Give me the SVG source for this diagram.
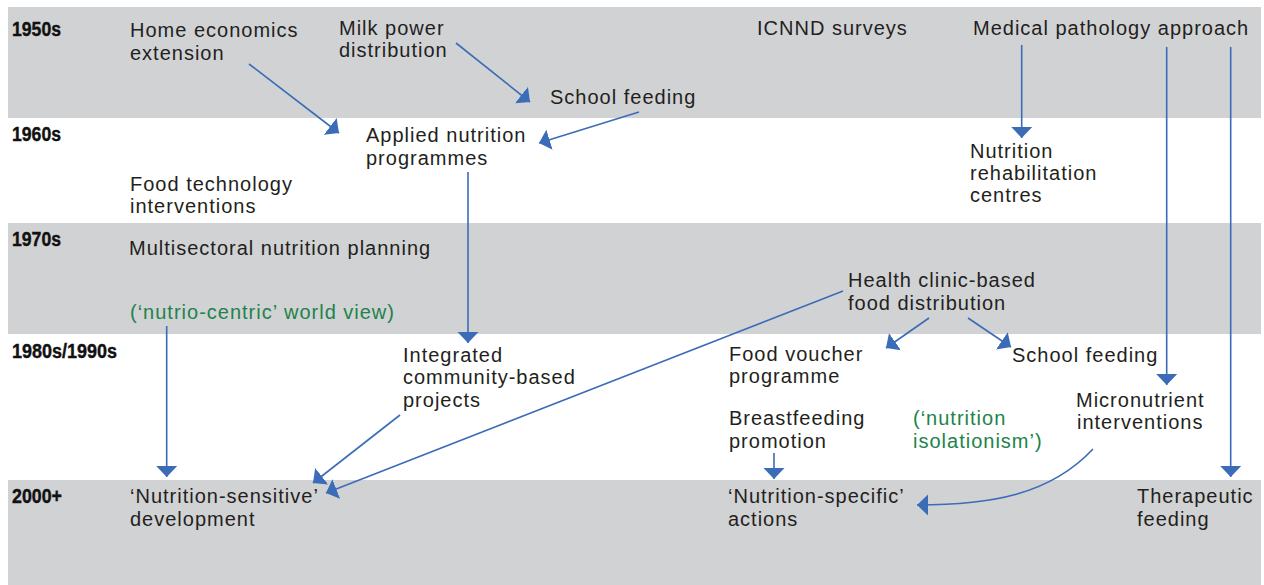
<svg xmlns="http://www.w3.org/2000/svg" width="1264" height="585" viewBox="0 0 1264 585">
<defs>
<style>
.band{fill:#d1d2d4}
.era{font-family:"Liberation Sans",Arial,sans-serif;font-weight:bold;font-size:20px;fill:#111;stroke:#111;stroke-width:0.4}
.t{font-family:"Liberation Sans",Arial,sans-serif;font-size:20px;letter-spacing:1px;fill:#231f20}
.g{fill:#21834a}
.c{fill:none;stroke:#3b6cb7;stroke-width:1.6}
</style>
<marker id="ah" markerUnits="userSpaceOnUse" markerWidth="12" markerHeight="22" refX="11" refY="10.5" orient="auto" viewBox="0 0 12 21">
<path d="M0,0 L11,10.5 L0,21 Z" fill="#3b6cb7"/>
</marker>
</defs>
<rect width="1264" height="585" fill="#fff"/>
<g id="bands">
<rect class="band" x="8" y="7" width="1253" height="111"/>
<rect class="band" x="8" y="223" width="1253" height="111"/>
<rect class="band" x="8" y="480" width="1253" height="105"/>
</g>
<g id="eras">
<text class="era" x="12" y="35.5" textLength="49" lengthAdjust="spacingAndGlyphs">1950s</text>
<text class="era" x="12" y="141" textLength="49" lengthAdjust="spacingAndGlyphs">1960s</text>
<text class="era" x="12" y="246" textLength="49" lengthAdjust="spacingAndGlyphs">1970s</text>
<text class="era" x="12" y="358" textLength="105" lengthAdjust="spacingAndGlyphs">1980s/1990s</text>
<text class="era" x="12" y="503" textLength="50" lengthAdjust="spacingAndGlyphs">2000+</text>
</g>
<g id="connectors">
<line class="c" x1="249" y1="64" x2="339" y2="133" marker-end="url(#ah)"/>
<line class="c" x1="456" y1="43" x2="530" y2="102" marker-end="url(#ah)"/>
<line class="c" x1="639" y1="112" x2="539" y2="143" marker-end="url(#ah)"/>
<line class="c" x1="1021.7" y1="45" x2="1021.7" y2="138" marker-end="url(#ah)"/>
<line class="c" x1="1166.7" y1="47" x2="1166.7" y2="385" marker-end="url(#ah)"/>
<line class="c" x1="1230.7" y1="47" x2="1230.7" y2="477" marker-end="url(#ah)"/>
<line class="c" x1="468" y1="172" x2="468" y2="343" marker-end="url(#ah)"/>
<line class="c" x1="166.7" y1="326" x2="166.7" y2="477" marker-end="url(#ah)"/>
<line class="c" x1="400" y1="415" x2="313" y2="483" marker-end="url(#ah)"/>
<line class="c" x1="843" y1="291" x2="326" y2="493" marker-end="url(#ah)"/>
<line class="c" x1="929" y1="318" x2="886" y2="348" marker-end="url(#ah)"/>
<line class="c" x1="968" y1="318" x2="1011" y2="347" marker-end="url(#ah)"/>
<line class="c" x1="774" y1="453" x2="774" y2="479" marker-end="url(#ah)"/>
<path class="c" d="M1093,449 C1050,495 990,505 917,505" marker-end="url(#ah)"/>
</g>
<g id="home-economics"><text class="t" x="130" y="37">Home economics</text><text class="t" x="130" y="59.5">extension</text></g>
<g id="milk-power"><text class="t" x="339" y="35">Milk power</text><text class="t" x="339" y="57">distribution</text></g>
<g id="school-feeding-1950"><text class="t" x="550" y="104">School feeding</text></g>
<g id="icnnd"><text class="t" x="757" y="35">ICNND surveys</text></g>
<g id="medical-pathology"><text class="t" x="973" y="35">Medical pathology approach</text></g>
<g id="applied-nutrition"><text class="t" x="366" y="142">Applied nutrition</text><text class="t" x="366" y="164.5">programmes</text></g>
<g id="food-technology"><text class="t" x="130" y="190.5">Food technology</text><text class="t" x="130" y="212.5">interventions</text></g>
<g id="nutrition-rehab"><text class="t" x="970" y="157.5">Nutrition</text><text class="t" x="970" y="180">rehabilitation</text><text class="t" x="970" y="202">centres</text></g>
<g id="multisectoral"><text class="t" x="129" y="255">Multisectoral nutrition planning</text></g>
<g id="nutrio-centric"><text class="t g" x="130" y="319">(‘nutrio-centric’ world view)</text></g>
<g id="health-clinic"><text class="t" x="848" y="287">Health clinic-based</text><text class="t" x="848" y="309.5">food distribution</text></g>
<g id="integrated"><text class="t" x="403" y="361.5">Integrated</text><text class="t" x="403" y="384">community-based</text><text class="t" x="403" y="406.5">projects</text></g>
<g id="food-voucher"><text class="t" x="729" y="360.5">Food voucher</text><text class="t" x="729" y="383">programme</text></g>
<g id="school-feeding-1980"><text class="t" x="1012" y="361.5">School feeding</text></g>
<g id="micronutrient"><text class="t" x="1076" y="406.5">Micronutrient</text><text class="t" x="1077" y="429">interventions</text></g>
<g id="breastfeeding"><text class="t" x="729" y="425">Breastfeeding</text><text class="t" x="729" y="447.5">promotion</text></g>
<g id="isolationism"><text class="t g" x="913" y="425">(‘nutrition</text><text class="t g" x="913" y="447.5">isolationism’)</text></g>
<g id="nutrition-sensitive"><text class="t" x="130" y="503">‘Nutrition-sensitive’</text><text class="t" x="130" y="526">development</text></g>
<g id="nutrition-specific"><text class="t" x="728" y="503">‘Nutrition-specific’</text><text class="t" x="728" y="526">actions</text></g>
<g id="therapeutic"><text class="t" x="1137" y="503">Therapeutic</text><text class="t" x="1137" y="526">feeding</text></g>
</svg>
